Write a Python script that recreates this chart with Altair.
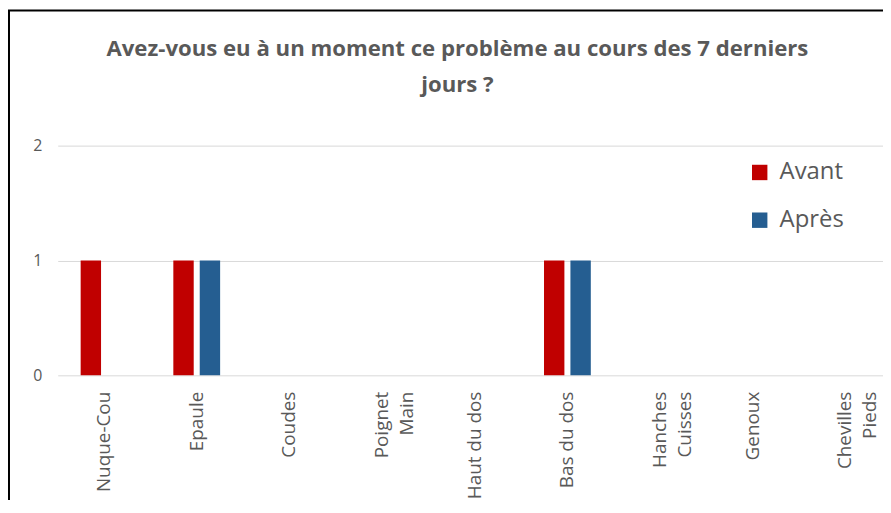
import altair as alt
import pandas as pd

# ---- data ----
categories = ["Nuque-Cou", "Epaule", "Coudes", "Poignet\nMain", "Haut du dos",
              "Bas du dos", "Hanches\nCuisses", "Genoux", "Chevilles\nPieds"]
avant = [1, 1, 0, 0, 0, 1, 0, 0, 0]
apres = [0, 1, 0, 0, 0, 1, 0, 0, 0]
series = ["Avant", "Après"]
colors = ["#C00000", "#255E91"]
title_lines = ["Avez-vous eu à un moment ce problème au cours des 7 derniers", "jours ?"]

rows = []
for c, a, b in zip(categories, avant, apres):
    rows.append({"cat": c, "serie": "Avant", "val": a})
    rows.append({"cat": c, "serie": "Après", "val": b})
df = pd.DataFrame(rows)

W, H = 830, 231
GRAY = "#595959"
FONT = "Open Sans"

bars = alt.Chart(df).mark_bar().encode(
    x=alt.X("cat:N", sort=categories, title=None,
            scale=alt.Scale(paddingInner=0.495, paddingOuter=0.2003, align=0.618),
            axis=alt.Axis(labelAngle=270, labelExpr="split(datum.label, '\\n')",
                          labelFont=FONT, labelFontSize=19, labelColor=GRAY,
                          labelLineHeight=25, labelPadding=16, ticks=False,
                          domain=False, grid=False, labelAlign="right",
                          labelBaseline="middle")),
    xOffset=alt.XOffset("serie:N", sort=series,
                        scale=alt.Scale(paddingInner=0.228, paddingOuter=0)),
    y=alt.Y("val:Q", scale=alt.Scale(domain=[0, 2], nice=False),
            axis=alt.Axis(tickCount=2, title=None, domain=False, ticks=False,
                          labelFont=FONT, labelFontSize=16, labelColor=GRAY,
                          labelPadding=16, gridColor="#d9d9d9", gridWidth=1,
                          format="d")),
    color=alt.Color("serie:N", sort=series,
                    scale=alt.Scale(domain=series, range=colors),
                    legend=alt.Legend(title=None, orient="none", legendX=694,
                                      legendY=15, direction="vertical",
                                      symbolType="square", symbolSize=240,
                                      labelFont=FONT, labelFontSize=24,
                                      labelColor=GRAY, rowPadding=24,
                                      labelOffset=8, padding=0,
                                      symbolStrokeWidth=0)),
)

frame = alt.Chart(pd.DataFrame({"k": [0]})).mark_rect(
    fillOpacity=0, stroke="black", strokeWidth=2
).encode(x=alt.value(-49), x2=alt.value(W + 80), y=alt.value(-136), y2=alt.value(H + 300))

chart = alt.layer(frame, bars).properties(
    width=W, height=H,
    title=alt.TitleParams(text=title_lines, font=FONT, fontSize=22.3,
                          fontWeight="bold", color=GRAY, anchor="middle",
                          dx=-13, dy=91, lineHeight=36),
    autosize=alt.AutoSizeParams(type="none"),
    padding={"left": 50, "top": 137, "right": 0, "bottom": 124},
).configure_view(strokeWidth=0)

chart.save("out.html", embed_options={"renderer": "svg", "actions": False})
